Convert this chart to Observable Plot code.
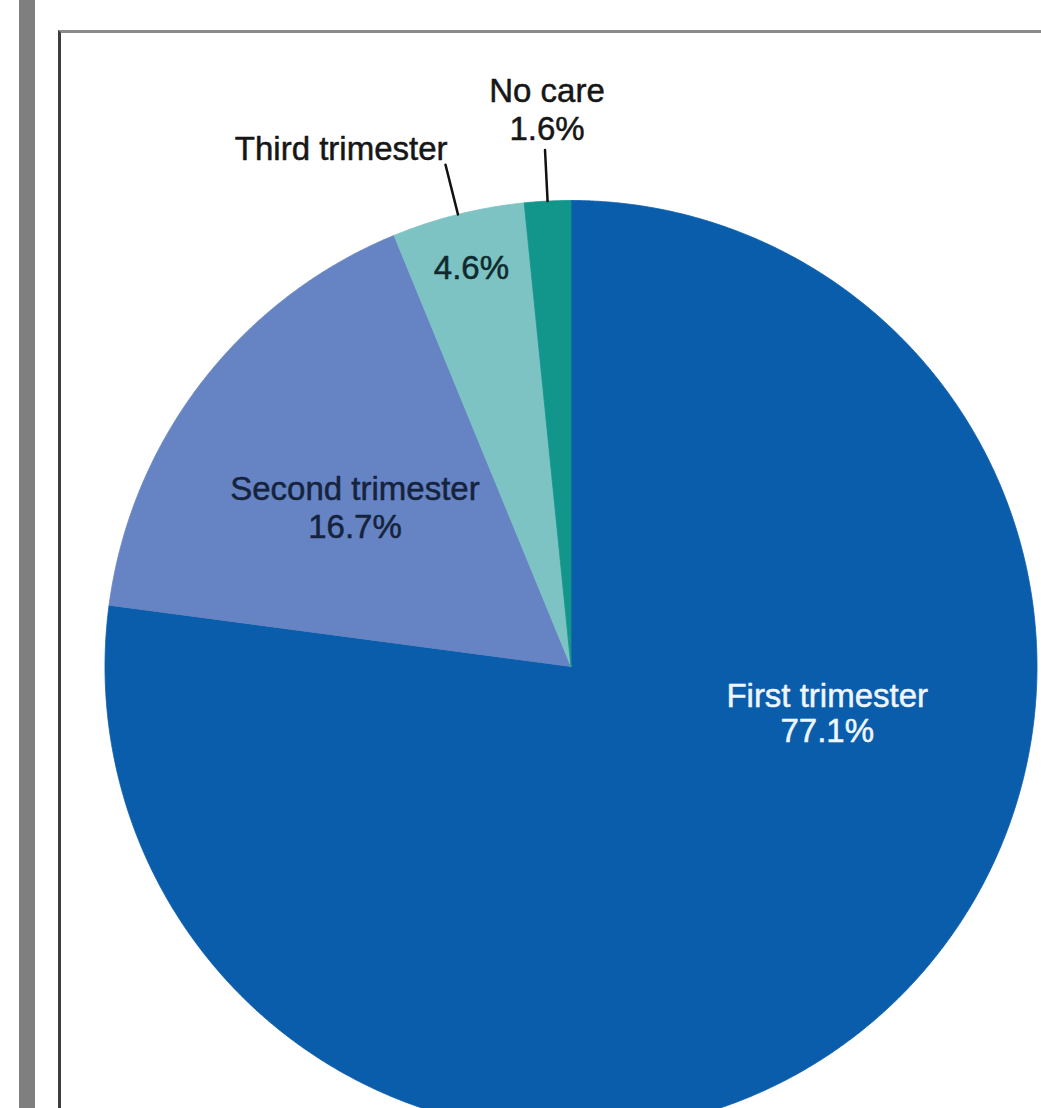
<!DOCTYPE html>
<html>
<head>
<meta charset="utf-8">
<script src="https://cdn.jsdelivr.net/npm/d3@7"></script>
<script src="https://cdn.jsdelivr.net/npm/@observablehq/plot@0.6"></script>
<style>
  html, body { margin: 0; padding: 0; background: #fff; }
  #page { position: relative; width: 1041px; height: 1108px; overflow: hidden; background: #fff; }
  #sidebar { position: absolute; left: 19px; top: 0; width: 16px; height: 1108px; background: #7f7f7f; }
  #panel { position: absolute; left: 58px; top: 30px; right: 0; bottom: 0;
           border-top: 3px solid #8a8a8a; border-left: 3px solid #3d3d3d; }
  #chart { position: absolute; left: 0; top: 0; }
</style>
</head>
<body>
<div id="page">
  <div id="sidebar"></div>
  <div id="panel"></div>
  <div id="chart"></div>
</div>
<script>
// Timing of prenatal care onset (percent of births)
const categories = ["First trimester", "Second trimester", "Third trimester", "No care"];
const shares = [77.1, 16.7, 4.6, 1.6];
const shareLabels = ["77.1%", "16.7%", "4.6%", "1.6%"];

// Slice colours, in category order
const palette = ["#0a5dab", "#6684c4", "#7dc3c3", "#12968b"];

// Pie geometry in pixels (the unit circle is mapped onto it by the x/y scales)
const cx = 570.5, cy = 666, R = 466;

const rows = categories.map((name, i) => ({name, share: shares[i], label: shareLabels[i]}));
const arcs = d3.pie().value(d => d.share).sort(null)(rows);

// Unit-circle point for an angle measured clockwise from 12 o'clock (y up)
const polar = (angle, r) => ({px: r * Math.sin(angle), py: r * Math.cos(angle)});
const deg = Math.PI / 180;

// Wedge outlines: centre -> arc -> centre
const wedgePoints = [];
for (const a of arcs) {
  const steps = Math.max(2, Math.ceil((a.endAngle - a.startAngle) / (0.25 * deg)));
  wedgePoints.push({name: a.data.name, px: 0, py: 0});
  for (let k = 0; k <= steps; ++k) {
    const t = a.startAngle + (a.endAngle - a.startAngle) * k / steps;
    wedgePoints.push({name: a.data.name, ...polar(t, 1)});
  }
  wedgePoints.push({name: a.data.name, px: 0, py: 0});
}

const midAngle = a => (a.startAngle + a.endAngle) / 2;
const arcOf = name => arcs.find(a => a.data.name === name);

// Label placement: radius as a fraction of the pie radius, optional angle (degrees)
const placement = {
  "First trimester":  {r: 0.559, angle: 100.4},
  "Second trimester": {r: 0.576, angle: 306.4},
  "Third trimester":  {r: 0.881},
  "No care":          {r: 1.11}
};
const at = (name) => {
  const p = placement[name];
  const ang = p.angle != null ? p.angle * deg : midAngle(arcOf(name));
  return polar(ang, p.r);
};

const firstLabel = [{text: `${rows[0].name}\n${rows[0].label}`, ...at(rows[0].name)}];
const secondLabel = [{text: `${rows[1].name}\n${rows[1].label}`, ...at(rows[1].name)}];
const thirdValue = [{text: rows[2].label, ...at(rows[2].name)}];

// Leader lines for the two thin slices, running radially out of the rim
const leaderNames = ["Third trimester", "No care"];
const leaders = leaderNames.flatMap(name => {
  const m = midAngle(arcOf(name));
  return [{name, ...polar(m, 1.0)}, {name, ...polar(m, 1.11)}];
});
const leaderEnd = name => polar(midAngle(arcOf(name)), 1.11);
const thirdName = [{text: rows[2].name, ...leaderEnd(rows[2].name)}];
const noCareLabel = [{text: `${rows[3].name}\n${rows[3].label}`, ...leaderEnd(rows[3].name)}];

const font = "'Liberation Sans', Arial, Helvetica, sans-serif";
const fs = 33;
const textStyle = (color) => ({fill: color, stroke: color, strokeWidth: 0.5, fontSize: fs});

const chart = Plot.plot({
  width: 1041,
  height: 1108,
  margin: 0,
  style: {background: "transparent", fontFamily: font},
  x: {domain: [-1, 1], range: [cx - R, cx + R], axis: null},
  y: {domain: [-1, 1], range: [cy + R, cy - R], axis: null},
  color: {type: "ordinal", domain: categories, range: palette},
  marks: [
    Plot.line(wedgePoints, {x: "px", y: "py", z: "name", fill: "name", stroke: "name", strokeWidth: 0.8}),
    Plot.line(leaders, {x: "px", y: "py", z: "name", stroke: "#111", strokeWidth: 2.5}),
    Plot.text(firstLabel, {x: "px", y: "py", text: "text", ...textStyle("#eef6ff"), lineHeight: 1.06, textAnchor: "middle"}),
    Plot.text(secondLabel, {x: "px", y: "py", text: "text", ...textStyle("#15233d"), lineHeight: 1.15, textAnchor: "middle"}),
    Plot.text(thirdValue, {x: "px", y: "py", text: "text", ...textStyle("#0f2a2e"), textAnchor: "middle"}),
    Plot.text(thirdName, {x: "px", y: "py", text: "text", ...textStyle("#161616"), textAnchor: "end", lineAnchor: "bottom", dx: 2, dy: -5}),
    Plot.text(noCareLabel, {x: "px", y: "py", text: "text", ...textStyle("#161616"), lineHeight: 1.15, textAnchor: "middle", lineAnchor: "bottom", dx: 2, dy: -10})
  ]
});

document.getElementById("chart").appendChild(chart);
</script>
</body>
</html>
